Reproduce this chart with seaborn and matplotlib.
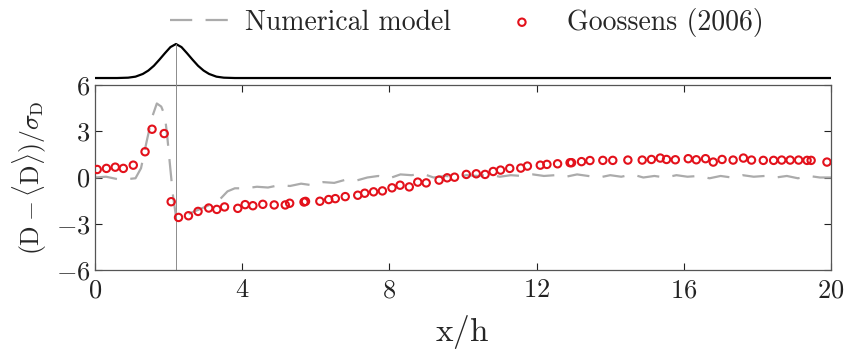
import numpy as np
import pandas as pd
import matplotlib
matplotlib.use("Agg")
import matplotlib.pyplot as plt
import seaborn as sns

# ------------------ data ------------------
# Goossens (2006) measurements
goossens_x = [0.06, 0.31, 0.55, 0.77, 1.04, 1.36, 1.55, 1.88, 2.07, 2.27,
              2.54, 2.80, 3.09, 3.31, 3.52, 3.88, 4.08, 4.29, 4.56, 4.87,
              5.17, 5.29, 5.68, 5.72, 6.11, 6.35, 6.53, 6.80, 7.14, 7.33,
              7.57, 7.81, 8.07, 8.29, 8.54, 8.77, 9.00, 9.35, 9.57, 9.77,
              10.09, 10.36, 10.60, 10.82, 11.02, 11.27, 11.57, 11.75, 12.10, 12.28,
              12.57, 12.91, 12.95, 13.22, 13.45, 13.80, 14.07, 14.48, 14.87, 15.12,
              15.36, 15.53, 15.77, 16.12, 16.34, 16.59, 16.80, 17.04, 17.34, 17.62,
              17.84, 18.16, 18.44, 18.66, 18.89, 19.12, 19.35, 19.46, 19.89]
goossens_y = [0.52, 0.59, 0.67, 0.59, 0.80, 1.67, 3.13, 2.85, -1.57, -2.59,
              -2.48, -2.20, -1.98, -2.07, -1.91, -2.00, -1.76, -1.83, -1.74, -1.78,
              -1.78, -1.67, -1.59, -1.55, -1.54, -1.43, -1.37, -1.24, -1.15, -1.02,
              -0.93, -0.87, -0.67, -0.50, -0.61, -0.30, -0.35, -0.17, -0.02, 0.02,
              0.20, 0.24, 0.20, 0.39, 0.48, 0.59, 0.61, 0.74, 0.80, 0.85,
              0.89, 0.96, 0.96, 1.03, 1.10, 1.11, 1.11, 1.13, 1.13, 1.17,
              1.26, 1.17, 1.15, 1.22, 1.15, 1.22, 1.00, 1.17, 1.13, 1.26,
              1.13, 1.11, 1.11, 1.13, 1.13, 1.13, 1.11, 1.11, 1.00]

# numerical model
model_x = [0.0, 0.3, 0.6, 0.9, 1.1, 1.25, 1.4, 1.55, 1.68, 1.8,
           1.9, 1.97, 2.05, 2.12, 2.2, 2.3, 2.5, 2.8, 3.1, 3.4,
           3.6, 3.8, 4.1, 4.4, 4.7, 5.0, 5.3, 5.6, 5.9, 6.2,
           6.5, 6.8, 7.1, 7.4, 7.7, 8.0, 8.3, 8.6, 8.9, 9.2,
           9.5, 9.8, 10.1, 10.4, 10.7, 11.0, 11.3, 11.6, 11.9, 12.2,
           12.5, 12.8, 13.1, 13.4, 13.7, 14.0, 14.3, 14.6, 14.9, 15.2,
           15.5, 15.8, 16.1, 16.4, 16.7, 17.0, 17.3, 17.6, 17.9, 18.2,
           18.5, 18.8, 19.1, 19.4, 19.7, 20.0]
model_y = [0.0, 0.05, -0.1, -0.1, -0.05, 0.6, 2.3, 3.9, 4.8, 4.6,
           4.0, 2.5, 0.5, -1.2, -2.5, -2.6, -2.4, -2.1, -1.8, -1.4,
           -0.9, -0.7, -0.7, -0.6, -0.65, -0.5, -0.55, -0.4, -0.5, -0.3,
           -0.35, -0.15, -0.2, 0.0, 0.1, -0.05, 0.2, 0.15, 0.25, 0.0,
           0.1, 0.05, 0.15, 0.1, 0.2, 0.05, 0.15, 0.1, 0.2, 0.1,
           0.15, 0.05, 0.2, 0.1, 0.0, 0.15, 0.05, 0.2, 0.0, 0.1,
           0.0, 0.15, 0.05, 0.1, -0.05, 0.1, 0.0, 0.15, 0.05, 0.1,
           0.0, 0.1, -0.05, 0.1, 0.0, 0.0]

# bed profile (gaussian bump) shown above the panel
bed_x = [0.0, 0.6, 0.9, 1.1, 1.3, 1.45, 1.6, 1.75, 1.9, 2.05,
         2.2, 2.35, 2.5, 2.65, 2.8, 2.95, 3.1, 3.3, 3.5, 3.8, 20.0]
bed_y = [0.0, 0.0, 0.01, 0.04, 0.12, 0.22, 0.36, 0.54, 0.73, 0.91,
         1.0, 0.91, 0.73, 0.54, 0.36, 0.22, 0.12, 0.04, 0.01, 0.0, 0.0]
bump_crest = 2.2

x_ticks = [0, 4, 8, 12, 16, 20]
y_ticks = [-6, -3, 0, 3, 6]

# ------------------ style ------------------
sns.set_theme(style="white")
plt.rcParams["font.family"] = ["cmr10", "DejaVu Serif"]
plt.rcParams["mathtext.fontset"] = "cm"
plt.rcParams["axes.formatter.use_mathtext"] = True

RED = "#e3111b"
GREY = "#ababab"

fig = plt.figure(figsize=(8.49, 3.55), dpi=100)
ax = fig.add_axes([0.1119, 0.2394, 0.8669, 0.5212])
ax_top = fig.add_axes([0.1119, 0.7746, 0.8669, 0.1127])

model_df = pd.DataFrame({"x": model_x, "y": model_y})
goossens_df = pd.DataFrame({"x": goossens_x, "y": goossens_y})
bed_df = pd.DataFrame({"x": bed_x, "y": bed_y})

sns.lineplot(data=model_df, x="x", y="y", ax=ax, color=GREY, lw=1.6,
             sort=False, estimator=None, label="Numerical model")
ax.lines[-1].set_dashes([10, 6])
sns.scatterplot(data=goossens_df, x="x", y="y", ax=ax, marker="o", s=28,
                facecolor="none", edgecolor=RED, linewidth=1.5,
                label="Goossens (2006)", zorder=3)
ax.axvline(bump_crest, color="#8c8c8c", lw=0.7, zorder=1)

ax.set_xlim(0, 20)
ax.set_ylim(-6, 6)
ax.set_xticks(x_ticks)
ax.set_yticks(y_ticks)
ax.tick_params(direction="in", length=5, width=0.8, labelsize=19,
               top=True, right=True, bottom=True, left=True, colors="#222222")
ax.tick_params(axis="x", pad=6)
for s in ax.spines.values():
    s.set_color("#555555")
    s.set_linewidth(0.9)
ax.set_xlabel(r"$\mathrm{x/h}$", fontsize=24)
ax.set_ylabel(r"$(\mathrm{D}-\langle\mathrm{D}\rangle)/\sigma_\mathrm{D}$", fontsize=18.5)
ax.xaxis.set_label_coords(0.4986, -0.235)
ax.yaxis.set_label_coords(-0.062, 0.5)

handles, labels = ax.get_legend_handles_labels()
ax.get_legend().remove()
fig.legend(handles, labels, loc="center", bbox_to_anchor=(0.55, 0.938),
           ncol=2, frameon=False, fontsize=20, handlelength=2.16,
           columnspacing=1.47, handletextpad=0.54)

# bed profile
sns.lineplot(data=bed_df, x="x", y="y", ax=ax_top, color="black", lw=1.6,
             sort=False, estimator=None)
ax_top.axvline(bump_crest, ymin=-0.2, ymax=0.9, color="#8c8c8c", lw=0.7,
               clip_on=False)
ax_top.set_xlim(0, 20)
ax_top.set_ylim(-0.0588, 1.118)
ax_top.axis("off")

fig.savefig("out.png", dpi=100)
